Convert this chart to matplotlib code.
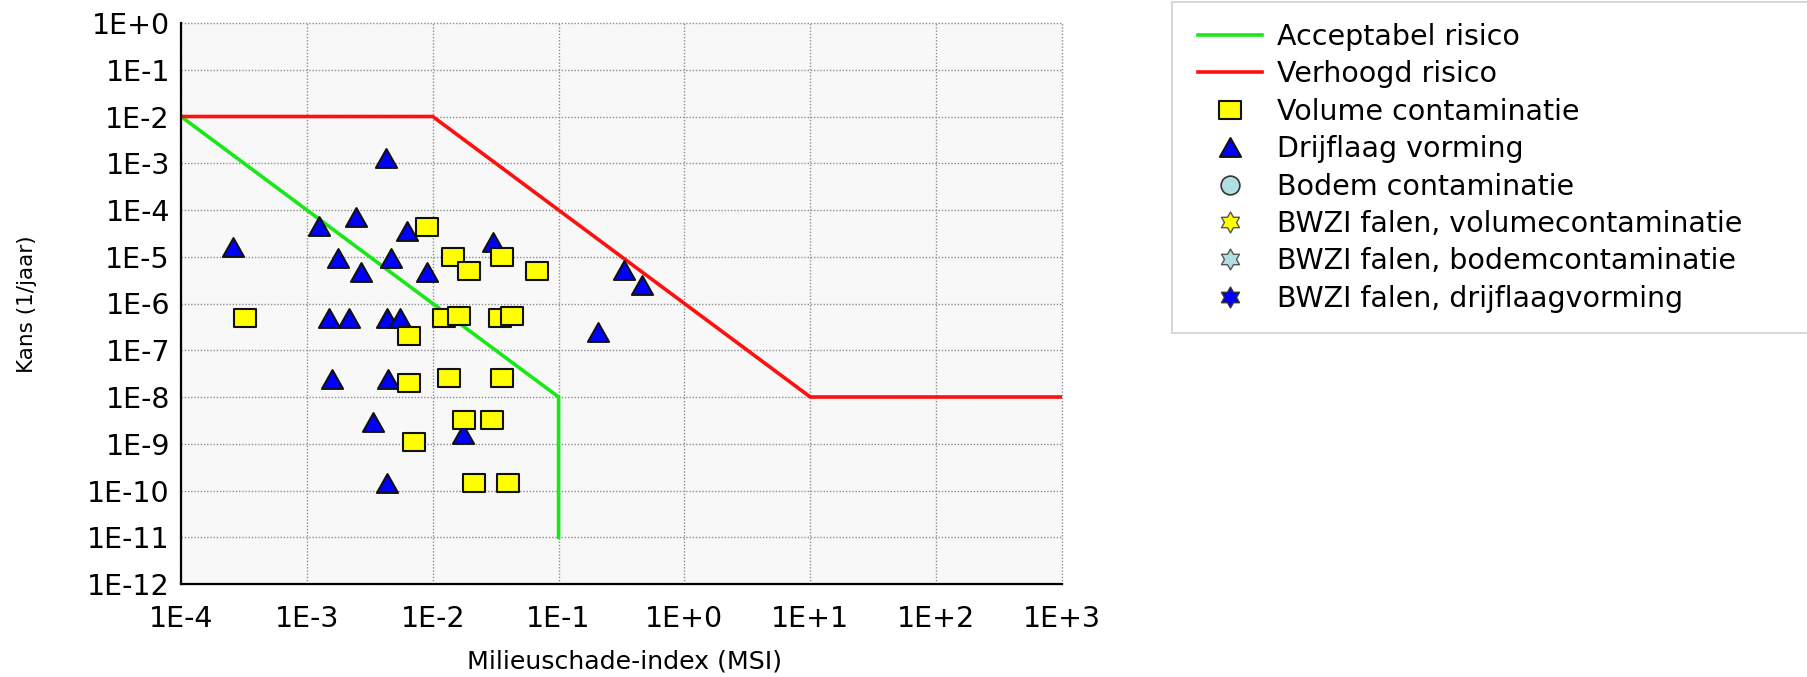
import numpy as np
import matplotlib
matplotlib.use("Agg")
import matplotlib.pyplot as plt
from matplotlib.path import Path
from matplotlib.patches import Rectangle

# ---- limit lines (MSI, kans per jaar) ----
acceptabel_msi = [1e-4, 1e-1, 1e-1]
acceptabel_kans = [1e-2, 1e-8, 1e-11]
verhoogd_msi = [1e-4, 1e-2, 1e1, 1e3]
verhoogd_kans = [1e-2, 1e-2, 1e-8, 1e-8]

# ---- scenario results ----
volume_msi = [8.95e-3, 1.46e-2, 1.94e-2, 3.56e-2, 6.8e-2, 3.2e-4, 1.24e-2, 1.63e-2,
              3.41e-2, 4.29e-2, 6.43e-3, 6.43e-3, 1.34e-2, 3.52e-2, 1.77e-2, 2.96e-2,
              7.13e-3, 2.13e-2, 3.94e-2]
volume_kans = [4.4e-5, 1.0e-5, 5.0e-6, 1.0e-5, 5.0e-6, 4.9e-7, 4.8e-7, 5.4e-7,
               4.8e-7, 5.4e-7, 2.0e-7, 2.0e-8, 2.5e-8, 2.5e-8, 3.2e-9, 3.2e-9,
               1.07e-9, 1.45e-10, 1.45e-10]

drijflaag_msi = [4.28e-3, 2.58e-4, 1.26e-3, 2.47e-3, 6.2e-3, 1.77e-3, 2.67e-3, 4.64e-3,
                 8.95e-3, 3.02e-2, 1.51e-3, 2.15e-3, 4.37e-3, 5.48e-3, 0.33, 0.46,
                 0.204, 1.58e-3, 4.45e-3, 3.37e-3, 1.74e-2, 4.37e-3]
drijflaag_kans = [1.28e-3, 1.6e-5, 4.5e-5, 7.2e-5, 3.6e-5, 9.2e-6, 4.7e-6, 9.2e-6,
                  4.7e-6, 2.1e-5, 4.8e-7, 4.8e-7, 4.8e-7, 4.8e-7, 5.2e-6, 2.5e-6,
                  2.5e-7, 2.4e-8, 2.4e-8, 2.9e-9, 1.6e-9, 1.46e-10]

bodem_msi, bodem_kans = [], []
bwzi_volume_msi, bwzi_volume_kans = [], []
bwzi_bodem_msi, bwzi_bodem_kans = [], []
bwzi_drijflaag_msi, bwzi_drijflaag_kans = [], []

x_ticklabels = ['1E-4', '1E-3', '1E-2', '1E-1', '1E+0', '1E+1', '1E+2', '1E+3']
y_ticklabels = ['1E-12', '1E-11', '1E-10', '1E-9', '1E-8', '1E-7', '1E-6',
                '1E-5', '1E-4', '1E-3', '1E-2', '1E-1', '1E+0']

legend_labels = ['Acceptabel risico', 'Verhoogd risico', 'Volume contaminatie',
                 'Drijflaag vorming', 'Bodem contaminatie',
                 'BWZI falen, volumecontaminatie', 'BWZI falen, bodemcontaminatie',
                 'BWZI falen, drijflaagvorming']

# ---- marker shapes ----
square = Path([(-1, -0.89), (1, -0.89), (1, 0.89), (-1, 0.89), (-1, -0.89)], closed=True)
triangle = Path([(-1, -0.89), (1, -0.89), (0, 0.89), (-1, -0.89)], closed=True)
ang = np.deg2rad(90 + 30 * np.arange(12))
rad = np.where(np.arange(12) % 2 == 0, 1.0, 0.577)
star_v = np.column_stack([rad * np.cos(ang), rad * np.sin(ang)])
hexagram = Path(np.vstack([star_v, star_v[:1]]), closed=True)

plt.rcParams['font.family'] = ['DejaVu Sans']

W, H = 1807, 677
fig = plt.figure(figsize=(W / 100, H / 100), dpi=100)
ax = fig.add_axes([181 / W, (H - 584) / H, 881 / W, 561 / H])
ax.set_facecolor('#f8f8f8')

edge = '#111111'
ax.plot(acceptabel_msi, acceptabel_kans, color='#18e818', lw=2.6, zorder=2,
        label=legend_labels[0], solid_joinstyle='miter')
ax.plot(verhoogd_msi, verhoogd_kans, color='#ff1010', lw=2.6, zorder=2,
        label=legend_labels[1], solid_joinstyle='miter')
ax.plot(volume_msi, volume_kans, ls='none', marker=square, ms=15.2, mfc='#ffff00',
        mec=edge, mew=1.5, zorder=4, label=legend_labels[2])
ax.plot(drijflaag_msi, drijflaag_kans, ls='none', marker=triangle, ms=15.2, mfc='#0000ff',
        mec=edge, mew=1.5, zorder=3, label=legend_labels[3])
ax.plot(bodem_msi, bodem_kans, ls='none', marker='o', ms=13.5, mfc='#b0dfe3',
        mec='#333333', mew=1.2, label=legend_labels[4])
ax.plot(bwzi_volume_msi, bwzi_volume_kans, ls='none', marker=hexagram, ms=15,
        mfc='#ffff00', mec='#555555', mew=1.0, label=legend_labels[5])
ax.plot(bwzi_bodem_msi, bwzi_bodem_kans, ls='none', marker=hexagram, ms=15,
        mfc='#b0dfe3', mec='#555555', mew=1.0, label=legend_labels[6])
ax.plot(bwzi_drijflaag_msi, bwzi_drijflaag_kans, ls='none', marker=hexagram, ms=15,
        mfc='#0000ff', mec='#333333', mew=1.0, label=legend_labels[7])

ax.set_xscale('log')
ax.set_yscale('log')
ax.set_xlim(1e-4, 1e3)
ax.set_ylim(1e-12, 1e0)
ax.set_xticks(10.0 ** np.arange(-4, 4))
ax.set_xticklabels(x_ticklabels)
ax.set_yticks(10.0 ** np.arange(-12, 1))
ax.set_yticklabels(y_ticklabels)
ax.minorticks_off()
ax.tick_params(axis='both', length=0, labelsize=20.5, colors='black')
ax.tick_params(axis='x', pad=15)
ax.tick_params(axis='y', pad=8)

ax.grid(True, which='major', color='#8f8f8f', lw=1.0, ls=(0, (1, 1.3)))
ax.set_axisbelow(True)
for t in ax.xaxis.get_major_ticks() + ax.yaxis.get_major_ticks():
    t.gridline.set_clip_on(False)

for s in ('top', 'right'):
    ax.spines[s].set_visible(False)
for s in ('left', 'bottom'):
    ax.spines[s].set_linewidth(1.6)
    ax.spines[s].set_color('black')

fig.text(625 / W, (H - 669) / H, 'Milieuschade-index (MSI)', ha='center',
         va='baseline', fontsize=18.2)
fig.text(27 / W, (H - 304) / H, 'Kans (1/jaar)', rotation=90, ha='center',
         va='center', fontsize=15.5)

# legend box
fig.add_artist(Rectangle((1172 / W, (H - 333) / H), 700 / W, 331 / H,
                         transform=fig.transFigure, facecolor='white',
                         edgecolor='#d4d4d4', lw=1.3, zorder=-1))
handles, labels = ax.get_legend_handles_labels()
fig.legend(handles, labels, loc='upper left',
           bbox_to_anchor=(1198 / W, 1 - 23 / H),
           bbox_transform=fig.transFigure, frameon=False, borderpad=0,
           borderaxespad=0, handlelength=2.26, handletextpad=0.52,
           labelspacing=0.33, fontsize=20.5)

fig.savefig('out.png', dpi=100, facecolor='white')
